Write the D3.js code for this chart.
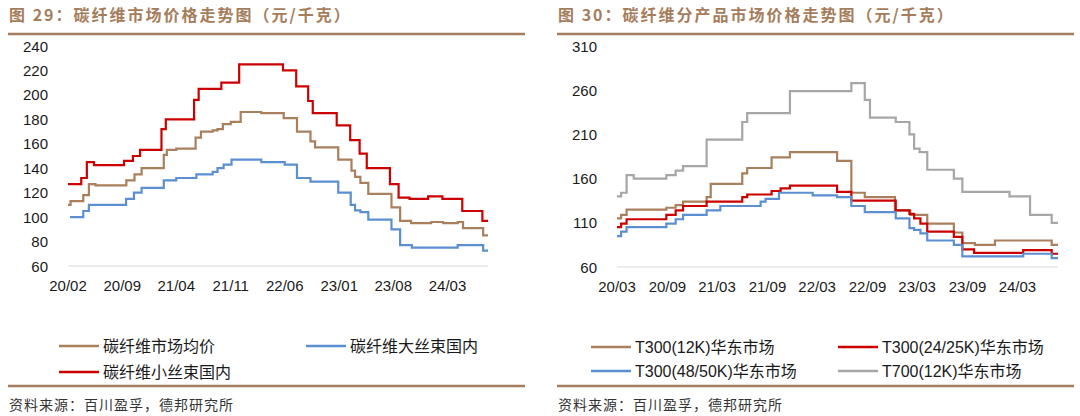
<!DOCTYPE html>
<html>
<head>
<meta charset="utf-8">
<script src="https://cdn.jsdelivr.net/npm/d3@7"></script>
<style>
  body { margin: 0; background: #fff; }
  svg { display: block; }
</style>
</head>
<body>
<svg id="chart" width="1080" height="416"></svg>
<script>
// figure 29: carbon fibre market prices (yuan/kg), step series [change date, value]
const marketAvg = [
  ["2020-02-01", 110], ["2020-02-11", 113], ["2020-04-01", 118], ["2020-04-23", 127],
  ["2020-05-19", 126], ["2020-09-17", 130], ["2020-10-19", 135], ["2020-11-16", 140],
  ["2021-02-11", 151], ["2021-02-23", 155], ["2021-04-01", 156], ["2021-06-16", 165],
  ["2021-07-07", 170], ["2021-08-22", 171], ["2021-09-10", 172], ["2021-10-01", 176],
  ["2021-11-01", 178], ["2021-12-10", 186], ["2022-03-01", 185], ["2022-05-28", 181],
  ["2022-07-19", 170], ["2022-09-10", 162], ["2022-09-28", 157], ["2022-12-28", 147],
  ["2023-02-18", 138], ["2023-03-04", 133], ["2023-03-25", 128], ["2023-04-25", 119],
  ["2023-07-25", 108], ["2023-08-28", 97], ["2023-10-10", 95], ["2023-12-28", 96],
  ["2024-02-13", 95], ["2024-04-10", 96], ["2024-05-01", 91], ["2024-07-19", 85]
];
const largeTow = [
  ["2020-02-09", 100], ["2020-04-01", 105], ["2020-04-23", 110], ["2020-09-16", 115],
  ["2020-10-17", 120], ["2020-11-16", 124], ["2021-02-11", 130], ["2021-04-01", 132],
  ["2021-06-19", 135], ["2021-08-22", 137], ["2021-09-10", 140], ["2021-10-04", 143],
  ["2021-11-04", 147], ["2022-03-01", 145], ["2022-06-01", 143], ["2022-07-19", 132],
  ["2022-09-10", 129], ["2022-12-28", 120], ["2023-02-15", 110], ["2023-03-04", 105.5],
  ["2023-03-25", 104], ["2023-04-25", 98], ["2023-07-25", 90], ["2023-08-28", 77],
  ["2023-10-13", 75], ["2024-04-10", 77], ["2024-07-19", 72.5]
];
const smallTow = [
  ["2020-02-01", 127], ["2020-03-24", 132], ["2020-04-15", 145], ["2020-05-13", 142.5],
  ["2020-09-08", 146], ["2020-10-13", 150], ["2020-11-10", 155], ["2021-02-02", 172],
  ["2021-02-19", 180], ["2021-06-10", 196], ["2021-06-28", 205], ["2021-09-25", 210],
  ["2021-12-04", 225], ["2022-05-25", 220], ["2022-07-16", 207], ["2022-09-01", 195],
  ["2022-09-19", 185], ["2022-12-22", 175], ["2023-02-13", 163], ["2023-03-22", 152],
  ["2023-04-19", 140], ["2023-07-19", 127], ["2023-08-22", 116], ["2023-10-04", 115],
  ["2023-12-16", 117], ["2024-02-10", 115], ["2024-04-28", 105], ["2024-07-16", 97]
];
const leftEnd = "2024-08-07";
const leftXTicks = ["20/02", "20/09", "21/04", "21/11", "22/06", "23/01", "23/08", "24/03"];
const leftYTicks = [60, 80, 100, 120, 140, 160, 180, 200, 220, 240];
const leftNames = ["碳纤维市场均价", "碳纤维大丝束国内", "碳纤维小丝束国内"];

// figure 30: prices by product, East China market
const t300_12k = [
  ["2020-03-01", 115], ["2020-03-16", 119], ["2020-04-05", 125], ["2020-08-28", 127],
  ["2020-10-01", 130], ["2020-10-28", 134], ["2021-01-22", 139], ["2021-02-06", 154],
  ["2021-06-01", 166], ["2021-06-19", 172], ["2021-09-16", 184], ["2021-11-22", 190],
  ["2022-05-13", 180], ["2022-07-04", 144], ["2022-08-22", 139], ["2022-12-10", 124],
  ["2023-02-04", 119], ["2023-04-07", 109], ["2023-07-13", 99], ["2023-08-13", 87],
  ["2023-09-28", 85], ["2023-12-10", 90], ["2024-07-04", 85]
];
const t300_25k = [
  ["2020-03-01", 105], ["2020-03-16", 109], ["2020-04-05", 114], ["2020-08-28", 119],
  ["2020-10-01", 124], ["2020-10-28", 129], ["2021-01-22", 134], ["2021-06-01", 139],
  ["2021-06-19", 142], ["2021-09-16", 146], ["2021-10-19", 149], ["2021-11-22", 152],
  ["2022-05-13", 145], ["2022-07-04", 135], ["2022-12-13", 124], ["2023-02-01", 120],
  ["2023-02-18", 115], ["2023-03-13", 109], ["2023-04-07", 100], ["2023-07-13", 94],
  ["2023-08-13", 80], ["2023-09-25", 76], ["2024-03-22", 79], ["2024-07-04", 75]
];
const t300_50k = [
  ["2020-03-01", 95], ["2020-03-16", 100], ["2020-04-05", 105], ["2020-08-28", 109],
  ["2020-10-01", 114], ["2020-10-28", 119], ["2021-01-22", 124], ["2021-03-13", 129],
  ["2021-08-07", 134], ["2021-08-25", 137], ["2021-10-13", 144], ["2022-02-13", 141],
  ["2022-05-13", 139], ["2022-07-04", 129], ["2022-08-22", 122], ["2022-12-13", 115],
  ["2023-02-01", 104], ["2023-02-18", 102], ["2023-03-13", 98], ["2023-04-07", 90],
  ["2023-07-13", 85], ["2023-08-13", 72], ["2024-03-22", 75], ["2024-07-04", 70]
];
const t700_12k = [
  ["2020-03-01", 140], ["2020-03-16", 144], ["2020-04-05", 164], ["2020-05-01", 160],
  ["2020-08-28", 164], ["2020-10-01", 169], ["2020-10-28", 174], ["2021-01-22", 204],
  ["2021-06-01", 224], ["2021-06-19", 234], ["2021-11-22", 259], ["2022-07-04", 268],
  ["2022-08-22", 249], ["2022-09-10", 229], ["2022-12-13", 224], ["2023-02-01", 210],
  ["2023-02-18", 194], ["2023-03-10", 190], ["2023-04-07", 170], ["2023-07-13", 160],
  ["2023-08-13", 145], ["2024-02-01", 140], ["2024-04-16", 119], ["2024-07-04", 110]
];
const rightEnd = "2024-07-27";
const rightXTicks = ["20/03", "20/09", "21/03", "21/09", "22/03", "22/09", "23/03", "23/09", "24/03"];
const rightYTicks = [60, 110, 160, 210, 260, 310];
const rightNames = ["T300(12K)华东市场", "T300(24/25K)华东市场", "T300(48/50K)华东市场", "T700(12K)华东市场"];

const BROWN = "#a97f5c", RED = "#cc0000", BLUE = "#5b8fd2", GRAY = "#a6a6a6";
const ACCENT = "#a57d5c";
const CJK = "'Noto Sans CJK SC', sans-serif";
const LATIN = "'Liberation Sans', Arial, 'Noto Sans CJK SC', sans-serif";

const parse = d3.timeParse("%Y-%m-%d");
const tickParse = d3.timeParse("%y/%m");
const svg = d3.select("#chart");

function drawPanel(p) {
  const g = svg.append("g");

  g.append("text")
    .attr("x", p.titleX).attr("y", 21)
    .attr("fill", ACCENT)
    .attr("font-family", CJK).attr("font-size", 16).attr("font-weight", "bold")
    .attr("letter-spacing", 2)
    .text(p.title);

  [34, 386].forEach(y => {
    g.append("line")
      .attr("x1", p.rule[0]).attr("x2", p.rule[1])
      .attr("y1", y).attr("y2", y)
      .attr("stroke", ACCENT).attr("stroke-width", 2.5);
  });

  const x = d3.scaleTime()
    .domain([parse(p.series[0].data[0][0]), parse(p.end)])
    .range(p.xRange);
  const y = d3.scaleLinear().domain(p.yDomain).range(p.yRange);

  // baseline
  g.append("line")
    .attr("x1", p.xRange[0]).attr("x2", p.xRange[1])
    .attr("y1", y(p.yDomain[0])).attr("y2", y(p.yDomain[0]))
    .attr("stroke", "#d9d9d9").attr("stroke-width", 1.2);

  g.selectAll(".ylab")
    .data(p.yTicks)
    .join("text")
    .attr("x", p.yLabelX).attr("y", d => y(d) + 5.5)
    .attr("text-anchor", "end")
    .attr("font-family", LATIN).attr("font-size", 15).attr("fill", "#1a1a1a")
    .text(d => d);

  g.selectAll(".xlab")
    .data(p.xTicks)
    .join("text")
    .attr("x", d => x(tickParse(d))).attr("y", y(p.yDomain[0]) + 25)
    .attr("text-anchor", "middle")
    .attr("font-family", LATIN).attr("font-size", 15).attr("fill", "#1a1a1a")
    .text(d => d);

  const line = d3.line()
    .x(d => x(d[0])).y(d => y(d[1]))
    .curve(d3.curveStepAfter);

  p.series.forEach(s => {
    const pts = s.data.map(d => [parse(d[0]), d[1]]);
    pts.push([parse(p.end), s.data[s.data.length - 1][1]]);
    g.append("path")
      .datum(pts)
      .attr("d", line)
      .attr("fill", "none")
      .attr("stroke", s.color)
      .attr("stroke-width", 2.2);
  });

  // legend
  p.series.forEach((s, i) => {
    const pos = p.legend[i];
    g.append("line")
      .attr("x1", pos[0]).attr("x2", pos[0] + 40)
      .attr("y1", pos[1]).attr("y2", pos[1])
      .attr("stroke", s.color).attr("stroke-width", 2.5);
    g.append("text")
      .attr("x", pos[0] + 44).attr("y", pos[1] + 5.5)
      .attr("font-family", LATIN).attr("font-size", 16).attr("fill", "#1a1a1a")
      .text(s.name);
  });

  g.append("text")
    .attr("x", p.titleX).attr("y", 410)
    .attr("font-family", CJK).attr("font-size", 14).attr("fill", "#333")
    .attr("letter-spacing", 1)
    .text("资料来源：百川盈孚，德邦研究所");
}

drawPanel({
  title: "图 29：碳纤维市场价格走势图（元/千克）",
  titleX: 9,
  rule: [8, 525],
  end: leftEnd,
  xRange: [68, 488],
  yDomain: [60, 240],
  yRange: [266, 46],
  yLabelX: 48,
  yTicks: leftYTicks,
  xTicks: leftXTicks,
  series: [
    { name: leftNames[0], data: marketAvg, color: BROWN },
    { name: leftNames[1], data: largeTow, color: BLUE },
    { name: leftNames[2], data: smallTow, color: RED }
  ],
  legend: [[59, 346], [306, 346], [59, 372]]
});

drawPanel({
  title: "图 30：碳纤维分产品市场价格走势图（元/千克）",
  titleX: 558,
  rule: [557, 1074],
  end: rightEnd,
  xRange: [617, 1058],
  yDomain: [60, 310],
  yRange: [267, 46],
  yLabelX: 597,
  yTicks: rightYTicks,
  xTicks: rightXTicks,
  series: [
    { name: rightNames[0], data: t300_12k, color: BROWN },
    { name: rightNames[1], data: t300_25k, color: RED },
    { name: rightNames[2], data: t300_50k, color: BLUE },
    { name: rightNames[3], data: t700_12k, color: GRAY }
  ],
  legend: [[591, 347], [838, 347], [591, 371], [838, 371]]
});
</script>
</body>
</html>
